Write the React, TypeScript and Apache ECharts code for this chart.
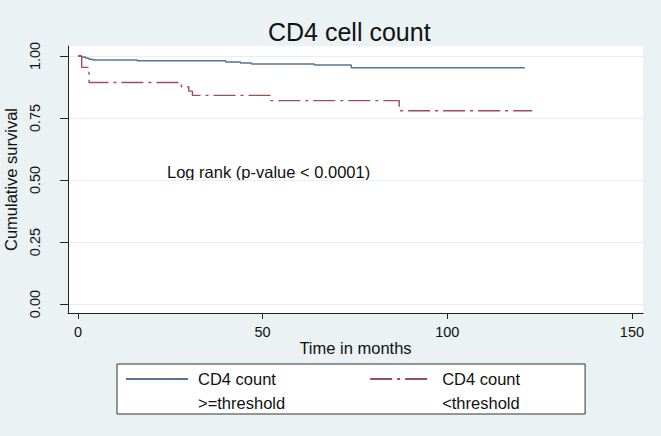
import React, { useEffect, useRef } from 'react';
import * as echarts from 'echarts';

const FONT = '"Liberation Sans", Arial, Helvetica, sans-serif';

const chartTitle = 'CD4 cell count';
const xAxisTitle = 'Time in months';
const yAxisTitle = 'Cumulative survival';
const annotationText = 'Log rank (p-value < 0.0001)';

const seriesNames = ['CD4 count\n>=threshold', 'CD4 count\n<threshold'];

// Kaplan-Meier step points: time (months) and cumulative survival
const timeHigh = [0, 1, 2, 2.5, 3, 4, 16, 40, 44, 47, 64, 74, 121];
const survHigh = [1.0, 0.996, 0.992, 0.99, 0.987, 0.984, 0.981, 0.976, 0.971, 0.967, 0.963, 0.952, 0.952];

const timeLow = [0, 1, 3, 28, 30, 31, 52, 87, 123];
const survLow = [1.0, 0.954, 0.893, 0.876, 0.858, 0.841, 0.82, 0.779, 0.779];

const xTicks = [0, 50, 100, 150];
const yTicks = [0, 0.25, 0.5, 0.75, 1];

const BG = '#EAF2F3';
const BLUE = '#557797';
const RED = '#9E4E54';

export default function App() {
  const ref = useRef<HTMLDivElement>(null);

  useEffect(() => {
    if (!ref.current) return;
    const chart = echarts.init(ref.current, null, { renderer: 'svg' });
    chart.setOption({
      animation: false,
      backgroundColor: BG,
      textStyle: { fontFamily: FONT },
      title: {
        text: chartTitle,
        left: 263,
        top: 14,
        padding: 5,
        textStyle: { fontSize: 25, fontWeight: 'normal', color: '#111', fontFamily: FONT },
      },
      grid: {
        left: 68,
        right: 18,
        top: 46,
        bottom: 123,
        show: true,
        backgroundColor: '#ffffff',
        borderWidth: 0,
        containLabel: false,
        outerBoundsMode: 'none',
      },
      xAxis: {
        type: 'value',
        min: -2.7,
        max: 153,
        name: xAxisTitle,
        nameLocation: 'middle',
        nameGap: 26,
        nameMoveOverlap: false,
        nameTextStyle: { fontSize: 16.5, color: '#111', fontFamily: FONT },
        axisLine: { show: true, onZero: false, lineStyle: { color: '#222', width: 1 } },
        axisTick: { show: true, length: 6, customValues: xTicks, lineStyle: { color: '#222' } },
        axisLabel: {
          customValues: xTicks,
          fontSize: 14.5,
          margin: 11,
          color: '#111',
          fontFamily: FONT,
        },
        splitLine: { show: false },
      },
      yAxis: {
        type: 'value',
        min: -0.036,
        max: 1.04,
        name: yAxisTitle,
        nameLocation: 'middle',
        nameRotate: 90,
        nameGap: 49,
        nameMoveOverlap: false,
        nameTextStyle: { fontSize: 16.5, color: '#111', fontFamily: FONT },
        axisLine: { show: true, onZero: false, lineStyle: { color: '#222', width: 1 } },
        axisTick: { show: true, length: 8, customValues: yTicks, lineStyle: { color: '#222' } },
        axisLabel: {
          customValues: yTicks,
          rotate: 90,
          fontSize: 14.5,
          margin: 26,
          color: '#111',
          fontFamily: FONT,
          formatter: (v: number) => v.toFixed(2),
        },
        splitLine: { show: true, lineStyle: { color: '#E6EEF0', width: 1 } },
      },
      legend: {
        data: seriesNames,
        formatter: (name: string) => '\n' + name,
        left: 117,
        top: 364,
        orient: 'horizontal',
        itemWidth: 62,
        itemHeight: 14,
        itemGap: 84,
        padding: [-21, 65, -1, 8],
        backgroundColor: '#ffffff',
        borderColor: '#333',
        borderWidth: 1,
        borderRadius: 0,
        selectedMode: false,
        itemStyle: { opacity: 0 },
        textStyle: {
          fontSize: 16.5,
          lineHeight: 24,
          padding: [0, 0, 0, 5],
          color: '#111',
          fontFamily: FONT,
        },
      },
      graphic: [
        {
          type: 'text',
          left: 167,
          top: 163,
          style: { text: annotationText, fontSize: 16.5, fill: '#111', fontFamily: FONT },
        },
      ],
      series: [
        {
          name: seriesNames[0],
          type: 'line',
          step: 'end',
          symbol: 'none',
          showSymbol: false,
          data: timeHigh.map((t, i) => [t, survHigh[i]]),
          lineStyle: { color: BLUE, width: 1.5, type: 'solid' },
          itemStyle: { color: BLUE },
        },
        {
          name: seriesNames[1],
          type: 'line',
          step: 'end',
          symbol: 'none',
          showSymbol: false,
          data: timeLow.map((t, i) => [t, survLow[i]]),
          lineStyle: { color: RED, width: 1.4, type: [22, 5, 3, 5] },
          itemStyle: { color: RED },
        },
      ],
    });
    return () => chart.dispose();
  }, []);

  return (
    <div
      ref={ref}
      style={{ position: 'fixed', left: 0, top: 0, width: 661, height: 436 }}
    />
  );
}
